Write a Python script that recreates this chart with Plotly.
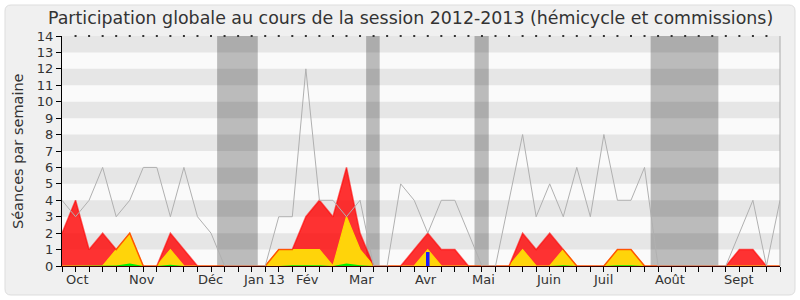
import plotly.graph_objects as go

weeks = list(range(54))
total = [4, 3, 4, 6, 3, 4, 6, 6, 3, 6, 3, 2, 0, 0, 0, 0, 3, 3, 12, 4, 4, 3, 4, 0, 0, 5, 4, 2, 4, 4, 2, 0, 0, 4, 8, 3, 5, 3, 6, 3, 8, 4, 4, 6, 0, 0, 0, 0, 0, 0, 2, 4, 0, 4]
red = [2, 4, 1, 2, 1, 2, 0, 0, 2, 1, 0, 0, 0, 0, 0, 0, 1, 1, 3, 4, 3, 6, 2, 0, 0, 0, 1, 2, 1, 1, 0, 0, 0, 0, 2, 1, 2, 1, 0, 0, 0, 1, 1, 0, 0, 0, 0, 0, 0, 0, 1, 1, 0, 0]
yellow = [0, 0, 0, 0, 1, 2, 0, 0, 1, 0, 0, 0, 0, 0, 0, 0, 1, 1, 1, 1, 0, 3, 1, 0, 0, 0, 0, 1, 0, 0, 0, 0, 0, 0, 1, 0, 0, 1, 0, 0, 0, 1, 1, 0, 0, 0, 0, 0, 0, 0, 0, 0, 0, 0]
green = [0, 0, 0, 0, 0.03, 0.15, 0, 0, 0.08, 0, 0, 0, 0, 0, 0, 0, 0, 0.05, 0.05, 0.05, 0, 0.15, 0.05, 0, 0, 0, 0, 0, 0, 0, 0, 0, 0, 0, 0, 0, 0, 0.05, 0, 0, 0, 0.05, 0.05, 0, 0, 0, 0, 0, 0, 0, 0, 0, 0, 0]
blue_week = 27
blue_val = 0.85
month_labels = ["Oct", "Nov", "Déc", "Jan 13", "Fév", "Mar", "Avr", "Mai", "Juin", "Juil", "Août", "Sept"]
month_pos = [1.07, 5.9, 10.95, 14.9, 18.1, 22.1, 26.9, 31.1, 35.9, 39.9, 44.9, 49.96]
vacations = [(11.45, 14.45), (22.45, 23.45), (30.45, 31.5), (43.45, 48.45)]
y_ticks = list(range(15))

FONT = "DejaVu Sans"
TXT = "#333333"

fig = go.Figure()

fig.add_trace(go.Scatter(x=weeks, y=red, mode="lines", fill="tozeroy",
                         fillcolor="rgba(255,0,0,0.8)", line=dict(color="rgba(255,0,0,0)", width=0),
                         hoverinfo="skip", showlegend=False))
fig.add_trace(go.Scatter(x=weeks, y=yellow, mode="lines", fill="tozeroy",
                         fillcolor="#ffd40a", line=dict(color="#ffd700", width=1.2),
                         hoverinfo="skip", showlegend=False))
fig.add_trace(go.Scatter(x=weeks, y=green, mode="lines", fill="tozeroy",
                         fillcolor="#00ee00", line=dict(color="rgba(0,230,0,0)", width=0),
                         hoverinfo="skip", showlegend=False))
fig.add_trace(go.Scatter(x=weeks, y=red, mode="lines",
                         line=dict(color="rgba(255,0,0,0.6)", width=1.5),
                         hoverinfo="skip", showlegend=False))
fig.add_trace(go.Scatter(x=[blue_week, blue_week], y=[0, blue_val], mode="lines",
                         line=dict(color="#1a1aff", width=3.5),
                         hoverinfo="skip", showlegend=False))
fig.add_trace(go.Scatter(x=weeks, y=total, mode="lines", line=dict(color="#b0b0b0", width=1),
                         hoverinfo="skip", showlegend=False))
# top dotted ticks
fig.add_trace(go.Scatter(x=weeks[1:-1], y=[y_ticks[-1]] * (len(weeks) - 2), mode="markers",
                         marker=dict(symbol="square", size=2, color="#333333", line=dict(width=0)),
                         cliponaxis=False, hoverinfo="skip", showlegend=False))

shapes = []
W, H, L, T, R, B = 800, 300, 62, 36, 20, 34
pw, ph = W - L - R, H - T - B
def px(x):
    return (x - L) / pw
def py(y):
    return (H - B - y) / ph
x0, x1, y0, y1, r = 5, 795, 5, 295, 6
path = (f"M {px(x0 + r)},{py(y0)} L {px(x1 - r)},{py(y0)} Q {px(x1)},{py(y0)} {px(x1)},{py(y0 + r)} "
        f"L {px(x1)},{py(y1 - r)} Q {px(x1)},{py(y1)} {px(x1 - r)},{py(y1)} "
        f"L {px(x0 + r)},{py(y1)} Q {px(x0)},{py(y1)} {px(x0)},{py(y1 - r)} "
        f"L {px(x0)},{py(y0 + r)} Q {px(x0)},{py(y0)} {px(x0 + r)},{py(y0)} Z")
shapes.append(dict(type="path", path=path, xref="paper", yref="paper", fillcolor="#f0f0f0",
                   line=dict(color="#dddddd", width=1), layer="below"))
shapes.append(dict(type="rect", xref="paper", yref="y", x0=0, x1=1, y0=0, y1=14,
                   fillcolor="#fafafa", line=dict(width=0), layer="below"))
for k in range(1, 14, 2):
    shapes.append(dict(type="rect", xref="paper", yref="y", x0=0, x1=1, y0=k, y1=k + 1,
                       fillcolor="#e6e6e6", line=dict(width=0), layer="below"))
for a, b in vacations:
    shapes.append(dict(type="rect", xref="x", yref="y", x0=a, x1=b, y0=0, y1=14,
                       fillcolor="rgba(0,0,0,0.25)", line=dict(width=0), layer="below"))
shapes.append(dict(type="line", xref="paper", yref="y", x0=1, x1=1, y0=0, y1=14,
                   line=dict(color="#aaaaaa", width=1)))

annotations = []
for lab, pos in zip(month_labels, month_pos):
    annotations.append(dict(x=pos, y=0, xref="x", yref="paper", text=lab, showarrow=False,
                            yanchor="top", xanchor="center", yshift=-4,
                            font=dict(family=FONT, size=13, color=TXT)))
annotations.append(dict(x=px(18), y=0.5, xref="paper", yref="paper", text="Séances par semaine",
                        textangle=-90, showarrow=False, xanchor="center", yanchor="middle",
                        font=dict(family=FONT, size=14.5, color=TXT)))
annotations.append(dict(x=px(410), y=py(18), xref="paper", yref="paper",
                        text="Participation globale au cours de la session 2012-2013 (hémicycle et commissions)",
                        showarrow=False, xanchor="center", yanchor="middle",
                        font=dict(family=FONT, size=17.4, color=TXT)))

fig.update_layout(
    width=W, height=H, autosize=False,
    margin=dict(l=L, r=R, t=T, b=B, pad=0),
    paper_bgcolor="white", plot_bgcolor="rgba(0,0,0,0)",
    shapes=shapes, annotations=annotations,
    xaxis=dict(range=[0, 53], tickvals=weeks, ticktext=[""] * len(weeks), ticks="outside",
               ticklen=5, tickcolor="black", tickwidth=1, showline=True, linecolor="#3a0000",
               linewidth=1, showgrid=False, zeroline=False, fixedrange=True, layer="below traces"),
    yaxis=dict(range=[0, 14], tickvals=y_ticks, ticks="outside", ticklen=5, tickcolor="black",
               tickwidth=1, showline=True, linecolor="black", linewidth=1, showgrid=False,
               zeroline=False, fixedrange=True, tickfont=dict(family=FONT, size=13, color=TXT)),
    font=dict(family=FONT, color=TXT),
)

fig.write_html("out.html")
